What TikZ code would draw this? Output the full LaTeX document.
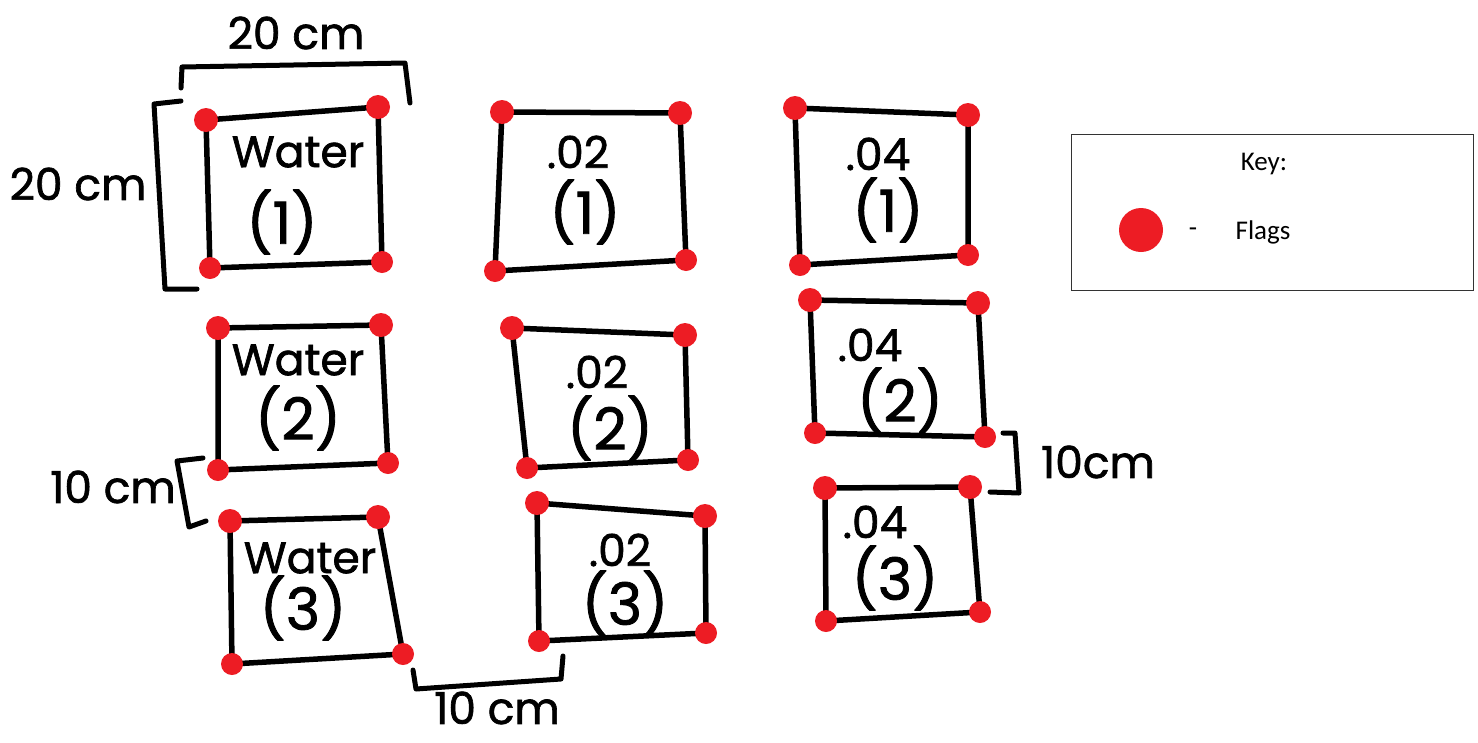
\documentclass[tikz,border=0pt]{standalone}
\usepackage{fontspec}
\newfontfamily\handfont{Poppins}[FakeBold=1.5]
\newfontfamily\keyfont{Carlito}
\definecolor{flagred}{RGB}{237,28,36}
\newcommand\myplotbox[5]{%
  \coordinate (#1tl) at #2; \coordinate (#1tr) at #3;
  \coordinate (#1br) at #4; \coordinate (#1bl) at #5;
  \draw[boxline] (#1tl) -- (#1tr) -- (#1br) -- (#1bl) -- cycle;
  \fill[flag] (#1tl) circle (12); \fill[flag] (#1tr) circle (12);
  \fill[flag] (#1br) circle (11); \fill[flag] (#1bl) circle (11);
}
\tikzset{
  boxline/.style={line width=5.5pt, line join=round, line cap=round},
  bracket/.style={line width=5pt, line join=round, line cap=round},
  flag/.style={fill=flagred, draw=none},
  hand/.style={font=\handfont\fontsize{44}{48}\selectfont, inner sep=0pt},
  num/.style={font=\handfont\fontsize{58}{62}\selectfont, inner sep=0pt},
  dim/.style={font=\handfont\fontsize{44}{48}\selectfont, inner sep=0pt},
  keytext/.style={font=\keyfont\fontsize{27}{30}\selectfont, inner sep=0pt}
}
\begin{document}
\begin{tikzpicture}[x=1pt,y=-1pt]
\useasboundingbox[fill=white] (0,0) rectangle (1478,742);

% boxes row 1
\myplotbox{wa}{(206,120)}{(378,107)}{(382,262)}{(210,268)}
\myplotbox{ba}{(502,112)}{(680,113)}{(686,260)}{(495,271)}
\myplotbox{ca}{(795,108)}{(968,115)}{(968,255)}{(800,265)}
% row 2
\myplotbox{wb}{(218,328)}{(381,325)}{(388,463)}{(218,470)}
\myplotbox{bb}{(512,328)}{(685,335)}{(688,460)}{(527,468)}
\myplotbox{cb}{(810,300)}{(978,303)}{(985,437)}{(815,433)}
% row 3
\myplotbox{wc}{(230,521)}{(378,517)}{(403,654)}{(232,664)}
\myplotbox{bc}{(537,503)}{(705,516)}{(706,633)}{(539,641)}
\myplotbox{cc}{(825,488)}{(970,487)}{(980,612)}{(826,621)}

% labels
\node[hand] (tw1) at (298,152) {Water};
\node[num]  (nw1) at (282,222) {(1)};
\node[hand] (tb1) at (578,152) {.02};
\node[num]  (nb1) at (585,212) {(1)};
\node[hand] (tc1) at (878,154) {.04};
\node[num]  (nc1) at (888,210) {(1)};

\node[hand] (tw2) at (298,360) {Water};
\node[num]  (nw2) at (298,418) {(2)};
\node[hand] (tb2) at (597,372) {.02};
\node[num]  (nb2) at (610,428) {(2)};
\node[hand] (tc2) at (870,345) {.04};
\node[num]  (nc2) at (900,400) {(2)};

\node[hand] (tw3) at (310,558) {Water};
\node[num]  (nw3) at (303,608) {(3)};
\node[hand] (tb3) at (620,550) {.02};
\node[num]  (nb3) at (625,603) {(3)};
\node[hand] (tc3) at (875,522) {.04};
\node[num]  (nc3) at (895,578) {(3)};

% dimension brackets
\coordinate (d1a) at (181,88); \coordinate (d1b) at (182,67);
\coordinate (d1c) at (405,63); \coordinate (d1d) at (410,103);
\draw[bracket] (d1a) -- (d1b) -- (d1c) -- (d1d);
\node[dim] (l1) at (296,33) {20 cm};

\coordinate (d2a) at (181,101); \coordinate (d2b) at (154,104);
\coordinate (d2c) at (165,289); \coordinate (d2d) at (197,289);
\draw[bracket] (d2a) -- (d2b) -- (d2c) -- (d2d);
\node[dim] (l2) at (78,184) {20 cm};

\coordinate (d3a) at (203,458); \coordinate (d3b) at (177,461);
\coordinate (d3c) at (189,527); \coordinate (d3d) at (206,521);
\draw[bracket] (d3a) -- (d3b) -- (d3c) -- (d3d);
\node[dim] (l3) at (113,487) {10 cm};

\coordinate (d4a) at (1003,433); \coordinate (d4b) at (1015,433);
\coordinate (d4c) at (1019,493); \coordinate (d4d) at (990,492);
\draw[bracket] (d4a) -- (d4b) -- (d4c) -- (d4d);
\node[dim] (l4) at (1098,462) {10cm};

\coordinate (d5a) at (413,670); \coordinate (d5b) at (416,689);
\coordinate (d5c) at (561,679); \coordinate (d5d) at (563,656);
\draw[bracket] (d5a) -- (d5b) -- (d5c) -- (d5d);
\node[dim] (l5) at (497,708) {10 cm};

% key
\node[draw=black!80, line width=1.3pt, minimum width=402pt, minimum height=156pt,
      inner sep=0pt, anchor=north west] (key) at (1071,134) {};
\node[keytext] (keyt) at (1264,164) {Key:};
\coordinate (keydot) at (1141,230);
\fill[flag] (keydot) circle (22);
\node[keytext] (dash) at (1193,232) {-};
\node[keytext] (flags) at (1263,232) {Flags};
\end{tikzpicture}
\end{document}
